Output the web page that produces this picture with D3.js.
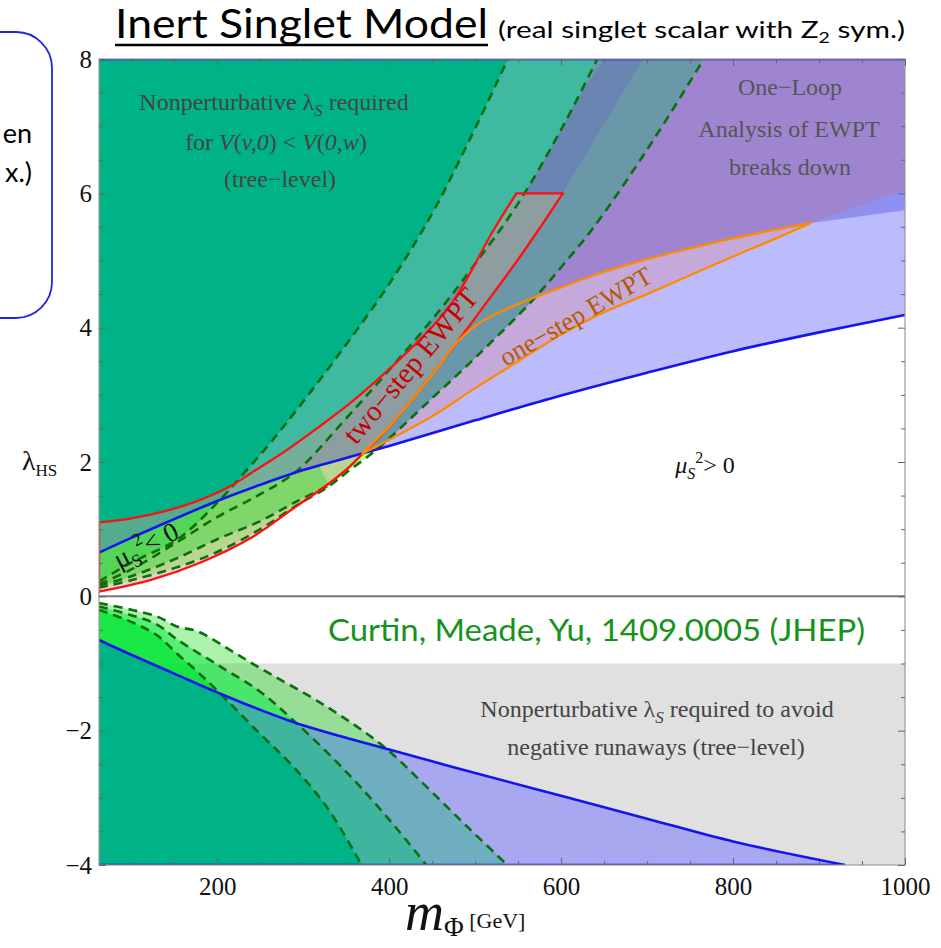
<!DOCTYPE html>
<html>
<head>
<meta charset="utf-8">
<script src="https://cdn.jsdelivr.net/npm/d3@7"></script>
<style>
  body { margin: 0; background: #fff; }
  svg { display: block; }
  .serif { font-family: "Liberation Serif", "DejaVu Serif", serif; }
  .sans { font-family: Lato, "Open Sans", sans-serif; }
</style>
</head>
<body>
<svg id="chart" width="941" height="948"></svg>
<script>
// ---- boundary curves, each point is [m_Phi (GeV), lambda_HS] ----
const blueUpper = [[62.5,0.65],[100,0.87],[150,1.15],[200,1.42],[250,1.66],[300,1.88],[350,2.06],[400,2.24],[500,2.62],[600,2.99],[700,3.33],[800,3.65],[900,3.93],[1000,4.19]];
const blueLower = [[62.5,-0.65],[100,-0.87],[150,-1.15],[200,-1.43],[288,-1.87],[400,-2.28],[500,-2.63],[600,-2.97],[700,-3.31],[800,-3.65],[930,-4.0]];

const dashTop1 = [[62.5,0.22],[100,0.5],[155,0.86],[199,1.38],[233,1.86],[264,2.32],[300,2.9],[350,3.75],[400,4.65],[450,5.7],[486,6.6],[538,8.0],[555,8.5]];
const dashTop2 = [[62.5,0.18],[100,0.4],[150,0.78],[200,1.18],[250,1.52],[292,1.86],[350,2.65],[400,3.37],[455,4.2],[500,4.95],[550,5.85],[600,6.95],[642,8.0],[660,8.5]];
const dashTopMid = [[62.5,0.16],[100,0.3],[150,0.55],[200,0.85],[250,1.12],[292,1.41],[330,1.65]];
const dashTop3 = [[62.5,0.13],[100,0.24],[150,0.42],[200,0.66],[250,1.0],[292,1.35],[330,1.64],[354,1.88],[385,2.18],[450,2.95],[500,3.55],[567,4.41],[600,4.9],[637,5.48],[700,6.65],[766,8.0],[780,8.3]];

const dashBot1 = [[62.5,-0.2],[100,-0.38],[130,-0.58],[153,-0.85],[175,-1.1],[199,-1.39],[250,-2.05],[288,-2.53],[327,-3.13],[368,-4.0],[385,-4.4]];
const dashBot2 = [[62.5,-0.15],[100,-0.28],[130,-0.42],[153,-0.64],[203,-1.04],[250,-1.42],[288,-1.84],[330,-2.35],[366,-2.83],[405,-3.4],[443,-4.0],[460,-4.3]];
const dashBot3 = [[62.5,-0.1],[100,-0.2],[130,-0.3],[153,-0.45],[177,-0.52],[215,-0.8],[250,-1.07],[327,-1.64],[393,-2.23],[443,-2.83],[490,-3.42],[537,-4.0],[555,-4.25]];

const twoStepUpper = [[62.5,1.1],[100,1.16],[137,1.26],[175,1.41],[214,1.63],[240,1.84],[280,2.17],[316,2.5],[355,2.88],[393,3.3],[430,3.75],[455,4.08],[471,4.33],[490,4.72],[520,5.42],[548,6.0]];
const twoStepLower = [[62.5,0.07],[122,0.24],[180,0.5],[238,0.86],[292,1.34],[330,1.68],[354,1.93],[368,2.11],[393,2.43],[430,2.98],[471,3.65],[509,4.3],[548,4.98],[575,5.48],[602,6.0]];
const twoStepCapLeft = [[548,6.0],[650,8.0]];
const twoStepCapRight = [[602,6.0],[695,8.0]];

const oneStepLower = [[368,2.12],[400,2.33],[450,2.68],[500,3.1],[550,3.5],[600,3.9],[645,4.2],[700,4.5],[750,4.78],[800,5.06],[850,5.33],[891,5.56]];
const oneStepUpper = [[368,2.12],[400,2.53],[430,2.98],[455,3.38],[480,3.8],[505,4.07],[530,4.24],[567,4.44],[600,4.6],[645,4.81],[700,5.02],[750,5.18],[800,5.33],[850,5.46],[891,5.56]];
const breakdownEdge = [[891,5.56],[1000,5.75]];
const oneStepEdge = [[891,5.56],[1000,6.05]];

const runawayLimit = -1;

// ---- axes ----
const xMajor = [200,400,600,800,1000];
const xTickLabels = ["200","400","600","800","1000"];
const xMinor = [100,150,250,300,350,450,500,550,650,700,750,850,900,950];
const yMajor = [-4,-2,0,2,4,6,8];
const yTickLabels = ["\u22124","\u22122","0","2","4","6","8"];
const yMinor = [-3.5,-3,-2.5,-1.5,-1,-0.5,0.5,1,1.5,2.5,3,3.5,4.5,5,5.5,6.5,7,7.5];

const x = d3.scaleLinear().domain([62.5,1000]).range([99,905]);
const y = d3.scaleLinear().domain([-4,8]).range([865,59]);

const svg = d3.select("#chart");
const defs = svg.append("defs");

const smooth = d3.line().x(d => x(d[0])).y(d => y(d[1])).curve(d3.curveCatmullRom.alpha(0.5));

// Joins smooth and straight pieces into one closed outline
function outline(parts) {
  let s = "";
  parts.forEach(([pts, isSmooth]) => {
    if (isSmooth) {
      const d = smooth(pts);
      s += s ? "L" + d.slice(1) : d;
    } else {
      pts.forEach(p => { s += (s ? "L" : "M") + x(p[0]) + "," + y(p[1]); });
    }
  });
  return s + "Z";
}
const rev = a => a.slice().reverse();

defs.append("clipPath").attr("id","plot").append("rect")
  .attr("x",99).attr("y",59).attr("width",806).attr("height",806);

const aboveBlueTop = outline([[blueUpper,true],[[[1000,8.6],[62.5,8.6]],false]]);
const belowBlueTop = outline([[blueUpper,true],[[[1000,0],[62.5,0]],false]]);
const belowBlueBot = outline([[blueLower,true],[[[1000,-4.6],[62.5,-4.6]],false]]);
const aboveBlueBot = outline([[blueLower,true],[[[1000,-4.6],[1000,0],[62.5,0]],false]]);
[["aT",aboveBlueTop],["bT",belowBlueTop],["bB",belowBlueBot],["aB",aboveBlueBot]].forEach(([id,d]) =>
  defs.append("clipPath").attr("id",id).append("path").attr("d",d));

const topRegion = c => outline([[c,true],[[[62.5,8.6]],false]]);
const botRegion = c => outline([[c,true],[[[62.5,-4.6]],false]]);

const breakdownRegion = outline([
  [breakdownEdge,false],[[[1000,8.6]],false],[rev(twoStepCapLeft),false],
  [[[602,6.0]],false],[rev(twoStepLower.filter(p => p[0] >= 368)),true],[oneStepUpper,true]
]);
const oneStepRegion = outline([
  [oneStepLower,true],[[oneStepEdge[1],[1000,8.6]],false],[rev(twoStepCapRight),false],
  [rev(twoStepLower.filter(p => p[0] >= 368)),true]
]);
defs.append("clipPath").attr("id","bd").append("path").attr("d",breakdownRegion);

const twoStepRegion = outline([
  [[[62.5,0.07]],false],[twoStepUpper,true],[[[602,6.0]],false],[rev(twoStepLower),true]
]);
const twoStepCap = outline([[[...twoStepCapLeft, ...rev(twoStepCapRight)],false]]);

const plot = svg.append("g").attr("clip-path","url(#plot)");
plot.append("rect").attr("x",99).attr("y",59).attr("width",806).attr("height",806).attr("fill","#fff");
plot.append("rect").attr("x",x(62.5)).attr("y",y(runawayLimit)).attr("width",x(1000)-x(62.5))
  .attr("height",y(-4.6)-y(runawayLimit)).attr("fill","#e0e0e0");

const fill = (g, d, color, clip) => {
  const p = g.append("path").attr("d",d).attr("fill",color);
  if (clip) p.attr("clip-path",`url(#${clip})`);
  return p;
};

// mu_S^2 < 0 side of the blue boundaries
fill(plot, aboveBlueTop, "#bcbcfc");
fill(plot, belowBlueBot, "#a8a8f0");
// one-step strip, breakdown region and their overlap
fill(plot, oneStepRegion, "#c5a9db");
fill(plot, breakdownRegion, "#9090f0");
fill(plot, oneStepRegion, "#9f85d0", "bd");

// nonperturbative lambda_S regions, upper half
fill(plot, topRegion(dashTop3), "#6a98a8", "aT");
fill(plot, twoStepCap, "#6a85b2");
fill(plot, topRegion(dashTop2), "#3fb9a0", "aT");
fill(plot, topRegion(dashTop1), "#00b386", "aT");
fill(plot, topRegion(dashTop3), "#b8ff8b", "bT");
fill(plot, topRegion(dashTopMid), "#52ff46", "bT");
fill(plot, topRegion(dashTop2), "#49ff3f", "bT");
fill(plot, topRegion(dashTop1), "#00ff26", "bT");
// lower half
fill(plot, botRegion(dashBot3), "rgba(0,220,0,0.33)", "aB");
fill(plot, botRegion(dashBot2), "rgba(15,235,75,0.55)", "aB");
fill(plot, botRegion(dashBot1), "rgba(0,230,50,0.7)", "aB");
fill(plot, botRegion(dashBot3), "#6eaec0", "bB");
fill(plot, botRegion(dashBot2), "#3fb5a0", "bB");
fill(plot, botRegion(dashBot1), "#00b386", "bB");

// two-step region tint
fill(plot, twoStepRegion, "rgba(185,165,150,0.45)");

// zero line
plot.append("line").attr("x1",x(62.5)).attr("x2",x(1000)).attr("y1",y(0)).attr("y2",y(0))
  .attr("stroke","#777").attr("stroke-width",2);

// dashed contours
[dashTop1,dashTop2,dashTopMid,dashTop3,dashBot1,dashBot2,dashBot3].forEach(c =>
  plot.append("path").attr("d",smooth(c)).attr("fill","none").attr("stroke","#0b700b")
    .attr("stroke-width",2.6).attr("stroke-dasharray","9,6"));

// blue boundaries
const straight = d3.line().x(d => x(d[0])).y(d => y(d[1]));
[smooth(blueUpper), smooth(blueLower), straight([[62.5,8],[1000,8]]), straight([[62.5,-4],[930,-4]])].forEach(d =>
  plot.append("path").attr("d",d).attr("fill","none").attr("stroke","#1414f0").attr("stroke-width",2.6));

// two-step and one-step outlines
plot.append("path").attr("d",twoStepRegion).attr("fill","none").attr("stroke","#ff1010").attr("stroke-width",2.3);
plot.append("path").attr("d",outline([[oneStepLower,true],[rev(oneStepUpper),true]]))
  .attr("fill","none").attr("stroke","#ff8a00").attr("stroke-width",2.3);

// ---- frame and ticks ----
svg.append("rect").attr("x",99).attr("y",59).attr("width",806).attr("height",806)
  .attr("fill","none").attr("stroke","#999").attr("stroke-width",1.2);

function ticks(axis, transform, values, size, labels) {
  const g = svg.append("g").attr("transform",transform)
    .call(axis.tickValues(values).tickSizeInner(-size).tickSizeOuter(0)
      .tickFormat(labels ? (d,i) => labels[i] : () => ""));
  g.select(".domain").remove();
  g.selectAll("line").attr("stroke","#666").attr("stroke-width",1);
  g.selectAll("text").attr("class","serif").attr("font-family",null).attr("font-size",25).attr("fill","#111");
  return g;
}
ticks(d3.axisBottom(x).tickPadding(12), "translate(0,865)", xMajor, 7, xTickLabels);
ticks(d3.axisBottom(x), "translate(0,865)", xMinor, 4);
ticks(d3.axisTop(x), "translate(0,59)", xMajor, 7);
ticks(d3.axisTop(x), "translate(0,59)", xMinor, 4);
ticks(d3.axisLeft(y).tickPadding(7), "translate(99,0)", yMajor, 7, yTickLabels);
ticks(d3.axisLeft(y), "translate(99,0)", yMinor, 4);
ticks(d3.axisRight(y), "translate(905,0)", yMajor, 7);
ticks(d3.axisRight(y), "translate(905,0)", yMinor, 4);

// ---- text ----
function label(parent, xPos, yPos, opts) {
  const t = parent.append("text").attr("x",xPos).attr("y",yPos)
    .attr("class", opts.cls || "serif").attr("font-size", opts.size || 24)
    .attr("fill", opts.color || "#444").attr("text-anchor", opts.anchor || "middle");
  if (opts.rotate) t.attr("transform",`rotate(${opts.rotate},${xPos},${yPos})`);
  if (opts.len) t.attr("textLength",opts.len).attr("lengthAdjust","spacingAndGlyphs");
  opts.parts.forEach(p => {
    const s = t.append("tspan").text(p.t);
    if (p.it) s.attr("font-style","italic");
    if (p.dy) s.attr("dy",p.dy);
    if (p.fs) s.attr("font-size",p.fs);
  });
  return t;
}

// title
label(svg, 115, 38, {cls:"sans", size:40, color:"#000", anchor:"start", len:373, parts:[{t:"Inert Singlet Model"}]});
svg.append("line").attr("x1",115).attr("x2",488).attr("y1",45).attr("y2",45).attr("stroke","#000").attr("stroke-width",2.5);
label(svg, 498, 38, {cls:"sans", size:23, color:"#000", anchor:"start", len:407,
  parts:[{t:"(real singlet scalar with Z"},{t:"2",fs:15,dy:5},{t:" sym.)",dy:-5}]});

// side note box
svg.append("rect").attr("x",-60).attr("y",32).attr("width",112).attr("height",286).attr("rx",36)
  .attr("fill","none").attr("stroke","#2323e6").attr("stroke-width",1.8);
label(svg, 32, 143, {cls:"sans", size:27, color:"#000", anchor:"end", parts:[{t:"en"}]});
label(svg, 32, 182, {cls:"sans", size:27, color:"#000", anchor:"end", parts:[{t:"x.)"}]});

// axis titles
label(svg, 22, 470, {size:28, color:"#111", anchor:"start", parts:[{t:"\u03bb"},{t:"HS",fs:17,dy:6}]});
label(svg, 405, 930, {size:54, color:"#111", anchor:"start", parts:[{t:"m",it:true},{t:"\u03a6",fs:27,dy:6},{t:" [GeV]",fs:22,dy:-8}]});

// region annotations
label(svg, 274, 110, {parts:[{t:"Nonperturbative \u03bb"},{t:"S",it:true,fs:17,dy:6},{t:" required",dy:-6}]});
label(svg, 276, 150, {parts:[{t:"for "},{t:"V",it:true},{t:"("},{t:"v,0",it:true},{t:") < "},{t:"V",it:true},{t:"("},{t:"0,w",it:true},{t:")"}]});
label(svg, 280, 187, {parts:[{t:"(tree\u2212level)"}]});

label(svg, 790, 95, {color:"#555", parts:[{t:"One\u2212Loop"}]});
label(svg, 789, 137, {color:"#555", parts:[{t:"Analysis of EWPT"}]});
label(svg, 790, 175, {color:"#555", parts:[{t:"breaks down"}]});

label(svg, 705, 473, {color:"#111", parts:[{t:"\u03bc",it:true},{t:"S",it:true,fs:16,dy:6},{t:"2",fs:16,dy:-16},{t:"> 0",dy:10}]});
label(svg, 150, 553, {size:27, color:"#111", rotate:-27, parts:[{t:"\u03bc"},{t:"S",fs:18,dy:7},{t:"2",fs:18,dy:-19},{t:"< 0",dy:12}]});

label(svg, 418, 372, {size:29, color:"#c80000", rotate:-50, parts:[{t:"two\u2212step EWPT"}]});
label(svg, 580, 324, {size:26, color:"#b45a00", rotate:-30, parts:[{t:"one\u2212step EWPT"}]});

label(svg, 328, 641, {cls:"sans", size:31, color:"#17931b", anchor:"start", len:537,
  parts:[{t:"Curtin, Meade, Yu, 1409.0005 (JHEP)"}]});

label(svg, 657, 717, {parts:[{t:"Nonperturbative \u03bb"},{t:"S",it:true,fs:17,dy:6},{t:" required to avoid",dy:-6}]});
label(svg, 656, 755, {parts:[{t:"negative runaways (tree\u2212level)"}]});
</script>
</body>
</html>
